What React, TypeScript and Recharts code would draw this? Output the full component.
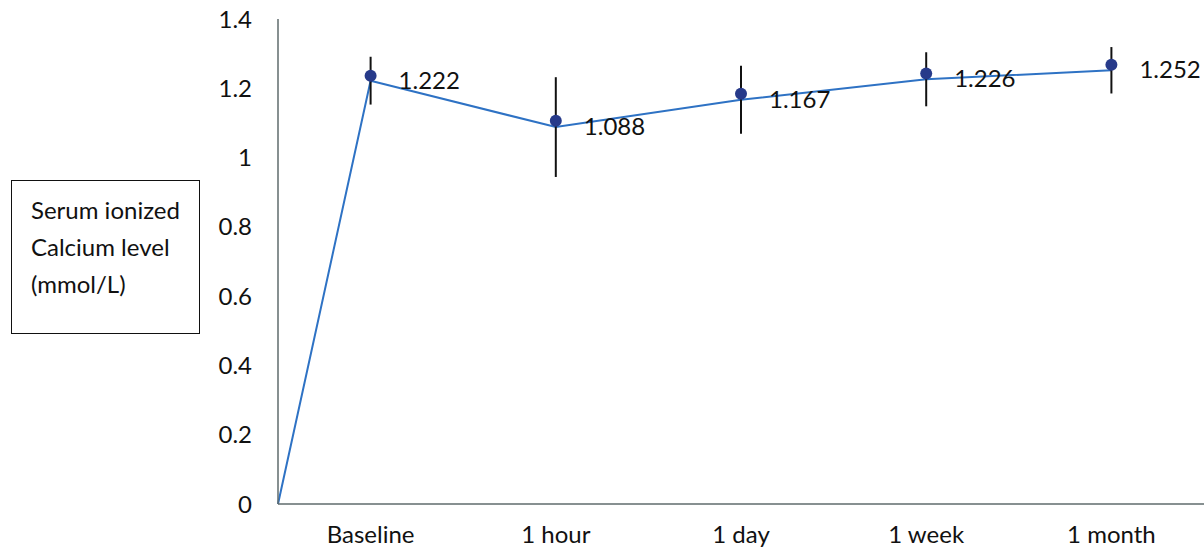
import React from "react";
import {
  ComposedChart,
  Line,
  Scatter,
  XAxis,
  YAxis,
  ErrorBar,
} from "recharts";

// Time points (categories)
const categories = ["Baseline", "1 hour", "1 day", "1 week", "1 month"];
// Position of each category on the numeric x axis (band centres)
const categoryPos = [0.5, 1.5, 2.5, 3.5, 4.5];
// Line vertices: starts at the origin, then the reported means
const lineX = [0, 0.5, 1.5, 2.5, 3.5, 4.5];
const lineValues = [0, 1.222, 1.088, 1.167, 1.226, 1.252];
// Reported means (labels) and error-bar half lengths
const meanValues = [1.222, 1.088, 1.167, 1.226, 1.252];
const errValues = [0.069, 0.144, 0.098, 0.078, 0.067];
// Marker positions as drawn in the figure
const markerValues = [1.236, 1.106, 1.184, 1.243, 1.268];
// Y ticks
const yTicks = [0, 0.2, 0.4, 0.6, 0.8, 1, 1.2, 1.4];

const FONT = "Lato, 'Open Sans', sans-serif";
const FS = 24;

const lineData = lineX.map((x, i) => ({ x, v: lineValues[i] }));
const ebData = categoryPos.map((x, i) => ({
  x,
  v: meanValues[i],
  err: errValues[i],
  label: meanValues[i].toFixed(3),
}));
const markerData = categoryPos.map((x, i) => ({ x, v: markerValues[i] }));

const LabelShape = (p: any) => (
  <text
    x={p.cx + 28}
    y={p.cy + 2}
    fontFamily={FONT}
    fontSize={FS}
    fill="#111"
    dominantBaseline="middle"
  >
    {p.payload.label}
  </text>
);

const DotShape = (p: any) => (
  <circle cx={p.cx} cy={p.cy} r={6} fill="#273a8a" />
);

export default function App() {
  return (
    <div style={{ position: "relative", width: 1204, height: 550 }}>
      <style>{"html,body{margin:0;padding:0;overflow:hidden;}"}</style>
      <ComposedChart
        width={1204}
        height={550}
        data={lineData}
        margin={{ top: 19, right: 0, bottom: 6, left: 208 }}
        style={{ overflow: "visible" }}
      >
        <XAxis
          dataKey="x"
          type="number"
          domain={[0, 5]}
          ticks={categoryPos}
          tickFormatter={(v: number) => categories[categoryPos.indexOf(v)] ?? ""}
          tickLine={false}
          axisLine={{ stroke: "#5f6b6d", strokeWidth: 1.5 }}
          tick={{ fill: "#111", fontSize: FS, fontFamily: FONT }}
          tickMargin={16}
          height={40}
        />
        <YAxis
          type="number"
          domain={[0, 1.4]}
          ticks={yTicks}
          tickFormatter={(v: number) => String(Math.round(v * 10) / 10)}
          tickLine={false}
          axisLine={{ stroke: "#5f6b6d", strokeWidth: 1.5 }}
          tick={{ fill: "#111", fontSize: FS, fontFamily: FONT }}
          tickMargin={20}
          width={70}
        />
        <Line
          dataKey="v"
          type="linear"
          stroke="#2e72c4"
          strokeWidth={2}
          dot={false}
          activeDot={false}
          isAnimationActive={false}
        />
        <Scatter
          data={ebData}
          dataKey="v"
          shape={LabelShape}
          isAnimationActive={false}
        >
          <ErrorBar
            dataKey="err"
            direction="y"
            width={0}
            stroke="#111"
            strokeWidth={2}
            isAnimationActive={false}
          />
        </Scatter>
        <Scatter
          data={markerData}
          dataKey="v"
          shape={DotShape}
          isAnimationActive={false}
        />
      </ComposedChart>
      <div
        style={{
          position: "absolute",
          left: 11,
          top: 180,
          width: 189,
          height: 154,
          border: "1.5px solid #111",
          paddingLeft: 19,
          paddingTop: 10,
          boxSizing: "border-box",
          fontFamily: FONT,
          fontSize: FS,
          lineHeight: "37px",
          color: "#111",
        }}
      >
        <div>Serum ionized</div>
        <div>Calcium level</div>
        <div>(mmol/L)</div>
      </div>
    </div>
  );
}
